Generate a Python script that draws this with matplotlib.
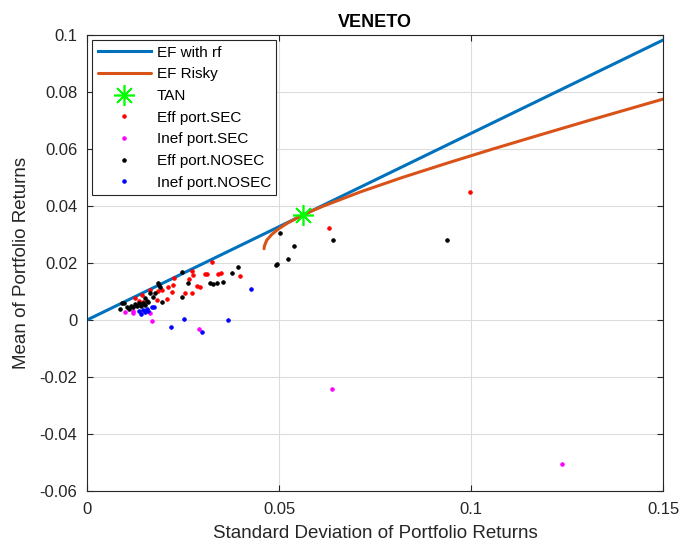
import matplotlib.pyplot as plt
import numpy as np
from matplotlib.ticker import FuncFormatter

plt.rcParams['font.family'] = ['Liberation Sans', 'DejaVu Sans']

# frontier with risk-free asset (rf = 0) and tangency portfolio
rf = 0.0
tan_sd, tan_mu = 0.0562, 0.0368
cml_sd = [0.0, 0.15]

# risky efficient frontier (std, mean)
ef_sd = [0.0461, 0.0462, 0.0468, 0.0481, 0.0499, 0.0522, 0.0550, 0.0581, 0.0616,
         0.0713, 0.0821, 0.0937, 0.1057, 0.1181, 0.1307, 0.1500]
ef_mu = [0.025, 0.026, 0.028, 0.030, 0.032, 0.034, 0.036, 0.038, 0.040,
         0.045, 0.050, 0.055, 0.060, 0.065, 0.070, 0.0775]

# single portfolios
eff_sec_sd = [0.0125, 0.0135, 0.0142, 0.0145, 0.0164, 0.0181, 0.0185, 0.0196, 0.0207, 0.0212,
              0.0220, 0.0225, 0.0227, 0.0255, 0.0266, 0.0273, 0.0273, 0.0277, 0.0286, 0.0294,
              0.0307, 0.0313, 0.0326, 0.0342, 0.0348, 0.0398, 0.0630, 0.0997]
eff_sec_mu = [0.0076, 0.0068, 0.0088, 0.0062, 0.0105, 0.0070, 0.0100, 0.0105, 0.0073, 0.0117,
              0.0099, 0.0123, 0.0146, 0.0094, 0.0143, 0.0096, 0.0173, 0.0158, 0.0119, 0.0117,
              0.0160, 0.0160, 0.0205, 0.0161, 0.0164, 0.0154, 0.0322, 0.0448]

inef_sec_sd = [0.0099, 0.0120, 0.0120, 0.0164, 0.0168, 0.0292, 0.0637, 0.1238]
inef_sec_mu = [0.0029, 0.0024, 0.0031, 0.0024, -0.0002, -0.0032, -0.0243, -0.0506]

eff_nosec_sd = [0.0086, 0.0090, 0.0095, 0.0103, 0.0110, 0.0115, 0.0120, 0.0125, 0.0130, 0.0135,
                0.0140, 0.0145, 0.0150, 0.0151, 0.0155, 0.0160, 0.0164, 0.0173, 0.0177, 0.0186,
                0.0188, 0.0190, 0.0195, 0.0247, 0.0248, 0.0264, 0.0320, 0.0327, 0.0338, 0.0355,
                0.0377, 0.0394, 0.0492, 0.0496, 0.0503, 0.0523, 0.0540, 0.0641, 0.0937]
eff_nosec_mu = [0.0037, 0.0060, 0.0058, 0.0047, 0.0040, 0.0050, 0.0045, 0.0055, 0.0048, 0.0058,
                0.0050, 0.0060, 0.0054, 0.0076, 0.0068, 0.0062, 0.0094, 0.0082, 0.0094, 0.0129,
                0.0123, 0.0117, 0.0064, 0.0082, 0.0167, 0.0129, 0.0130, 0.0125, 0.0129, 0.0134,
                0.0166, 0.0187, 0.0192, 0.0195, 0.0304, 0.0214, 0.0261, 0.0280, 0.0280]

inef_nosec_sd = [0.0135, 0.0140, 0.0145, 0.0150, 0.0155, 0.0160, 0.0168, 0.0175, 0.0218,
                 0.0253, 0.0300, 0.0366, 0.0427]
inef_nosec_mu = [0.0030, 0.0022, 0.0035, 0.0028, 0.0040, 0.0032, 0.0047, 0.0045, -0.0023,
                 0.0003, -0.0043, 0.0000, 0.0108]

fig = plt.figure(figsize=(6.81, 5.45), dpi=100)
ax = fig.add_axes([0.1278, 0.0991, 0.8458, 0.8367])

slope = (tan_mu - rf) / tan_sd
cml_mu = [rf + slope * s for s in cml_sd]
ax.plot(cml_sd, cml_mu, color='#0072BD', lw=2.2, label='EF with rf')
ax.plot(ef_sd, ef_mu, color='#D95319', lw=2.2, label='EF Risky', solid_capstyle='round')
ax.plot(tan_sd, tan_mu, ls='none', marker=(8, 2, 0), ms=15, mew=1.2, color='#00FF00', label='TAN')

ms, mew = 2.6, 0.6
ax.plot(eff_sec_sd, eff_sec_mu, ls='none', marker='o', ms=ms, mew=mew, color='red', label='Eff port.SEC')
ax.plot(inef_sec_sd, inef_sec_mu, ls='none', marker='o', ms=ms, mew=mew, color='magenta', label='Inef port.SEC')
ax.plot(eff_nosec_sd, eff_nosec_mu, ls='none', marker='o', ms=ms, mew=mew, color='black', label='Eff port.NOSEC')
ax.plot(inef_nosec_sd, inef_nosec_mu, ls='none', marker='o', ms=ms, mew=mew, color='blue', label='Inef port.NOSEC')

ax.set_xlim(0, 0.15)
ax.set_ylim(-0.06, 0.1)
ax.set_xticks([0, 0.05, 0.1, 0.15])
ax.set_yticks(np.arange(-0.06, 0.1001, 0.02))
fmt = FuncFormatter(lambda v, p: '%g' % round(v, 4))
ax.xaxis.set_major_formatter(fmt)
ax.yaxis.set_major_formatter(fmt)
ax.grid(True, color='#DCDCDC', lw=0.8)
ax.set_axisbelow(True)
ax.tick_params(direction='in', top=True, right=True, labelsize=12, colors='#262626', length=4)
ax.tick_params(axis='x', pad=8)
ax.tick_params(axis='y', pad=7)
for s in ax.spines.values():
    s.set_color('#262626')
    s.set_linewidth(0.8)

ax.set_title('VENETO', fontsize=13, fontweight='bold', pad=6)
ax.set_xlabel('Standard Deviation of Portfolio Returns', fontsize=13.5, color='#262626', labelpad=6)
ax.set_ylabel('Mean of Portfolio Returns', fontsize=13.5, color='#262626', labelpad=7)

leg = ax.legend(loc='upper left', fontsize=11, handlelength=3.5, borderaxespad=0.35,
                labelspacing=0.5, fancybox=False, framealpha=1, edgecolor='#262626',
                borderpad=0.35, handletextpad=0.35)
leg.get_frame().set_linewidth(0.8)

plt.savefig('out.png', dpi=100)
